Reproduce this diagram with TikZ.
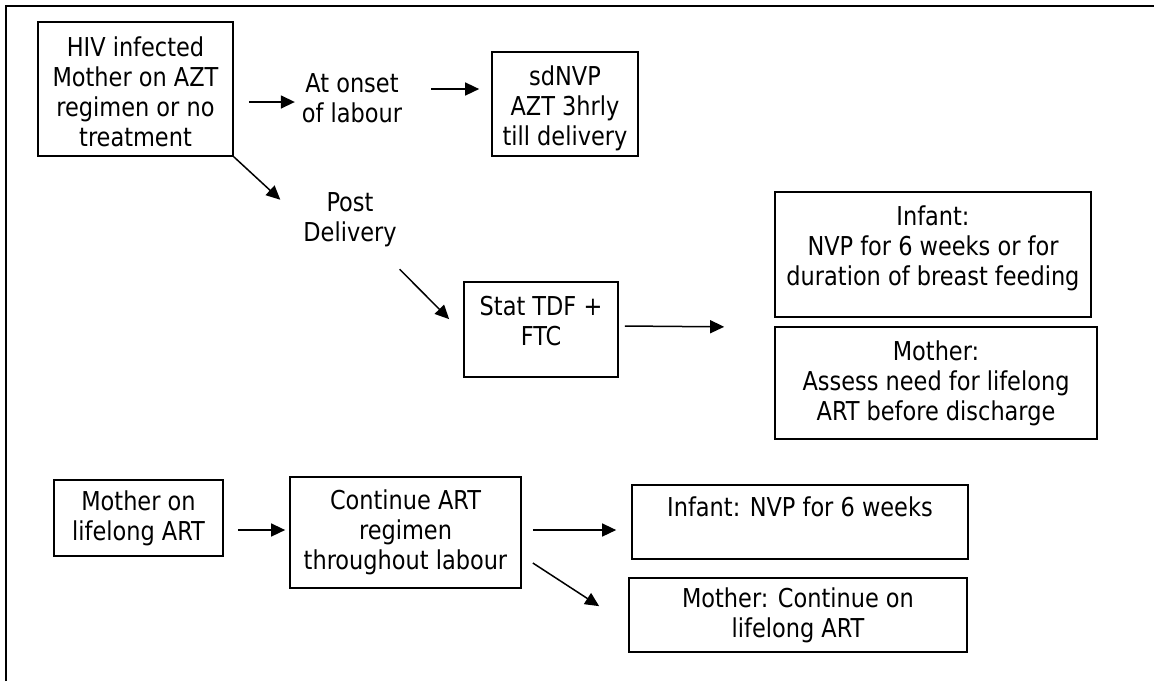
\documentclass[tikz,border=0pt]{standalone}
\usepackage{fontspec}
\setmainfont{DejaVu Sans Condensed}[FakeStretch=0.96]
\usepackage{tikz}
\usetikzlibrary{arrows.meta, positioning, calc}

\begin{document}
\begin{tikzpicture}[
    x=0.5pt, y=-0.5pt,
    every node/.style={font=\fontsize{13pt}{15pt}\selectfont, align=center},
    stagebox/.style={draw, line width=0.85pt, inner sep=0pt},
    arrow/.style={-{Triangle[length=7pt, width=6.5pt]}, line width=0.75pt}
]
\useasboundingbox (0,0) rectangle (1154,681);

% Frame
\draw[line width=1pt] (6,681) -- (6,6) -- (1154,6);

% Mother on AZT or no treatment
\node[stagebox, minimum width=97.5pt, minimum height=67pt, text height=57.5pt] (hiv) at (135.5,89) {HIV infected\\Mother on AZT\\regimen or no\\treatment};
\node (onset) at (352,98) {At onset\\of labour};
\node[stagebox, minimum width=73pt, minimum height=52pt, text height=44.5pt] (sdnvp) at (565,104) {sdNVP\\AZT 3hrly\\till delivery};
\node (post) at (350,220) {Post\\Delivery};
\node[stagebox, minimum width=77pt, minimum height=47.5pt, text depth=8.5pt] (stat) at (541,329.5) {Stat TDF +\\FTC};
\node[stagebox, minimum width=158pt, minimum height=62.5pt, text depth=9pt] (infant1) at (933,254.5) {Infant:\\NVP for 6 weeks or for\\duration of breast feeding};
\node[stagebox, minimum width=161pt, minimum height=56pt] (mother1) at (936,383) {Mother:\\Assess need for lifelong\\ART before discharge};

\draw[arrow] ([xshift=7.5pt, yshift=-6.5pt]hiv.east) -- ([yshift=-2pt]onset.west);
\draw[arrow] ([xshift=11pt, yshift=4.5pt]onset.east) -- ([xshift=-6pt, yshift=7.5pt]sdnvp.west);
\draw[arrow] (hiv.south east) -- ([xshift=-8pt, yshift=-7pt]post.north west);
\draw[arrow] ([xshift=-2pt, yshift=-7.5pt]post.south east) -- ([xshift=-7pt, yshift=-19pt]stat.north west);
\draw[arrow] ([xshift=3pt, yshift=1.75pt]stat.east) -- ([xshift=-25pt, yshift=-4.5pt]infant1.south west);

% Mother on lifelong ART
\node[stagebox, minimum width=84.5pt, minimum height=38pt] (mlife) at (138.5,518) {Mother on\\lifelong ART};
\node[stagebox, minimum width=115.5pt, minimum height=55.5pt] (cont) at (405.5,532.5) {Continue ART\\regimen\\throughout labour};
\node[stagebox, minimum width=168pt, minimum height=37pt, text depth=15pt] (infant2) at (800,522) {Infant: NVP for 6 weeks};
\node[stagebox, minimum width=169pt, minimum height=37pt] (mother2) at (798,615) {Mother: Continue on\\lifelong ART};

\draw[arrow] ([xshift=7pt, yshift=-6pt]mlife.east) -- ([xshift=-2pt, yshift=1.25pt]cont.west);
\draw[arrow] ([xshift=5.5pt, yshift=1.25pt]cont.east) -- ([xshift=-7.5pt, yshift=-4pt]infant2.west);
\draw[arrow] ([xshift=5.5pt, yshift=-15.25pt]cont.east) -- ([xshift=-14.5pt, yshift=-14.5pt]mother2.north west);

\end{tikzpicture}
\end{document}
